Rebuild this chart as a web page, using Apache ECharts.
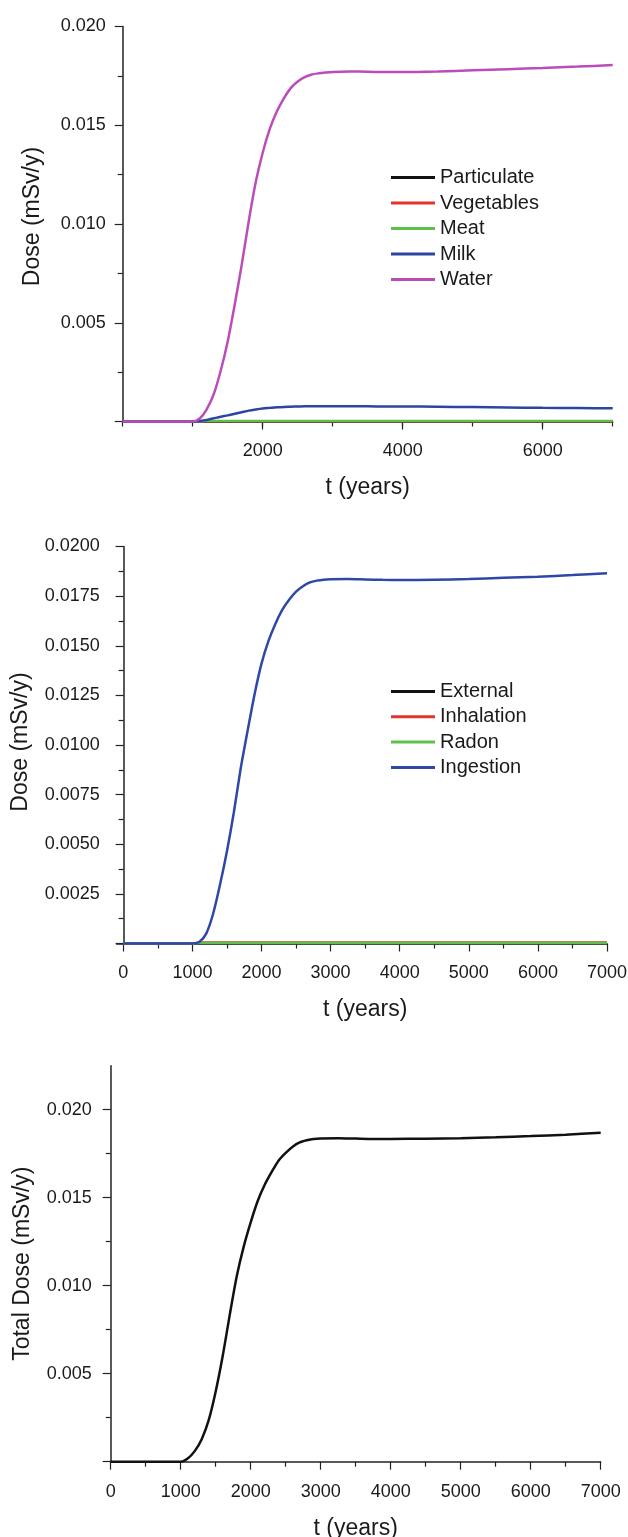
<!DOCTYPE html>
<html><head><meta charset="utf-8">
<script src="https://cdn.jsdelivr.net/npm/echarts@6/dist/echarts.min.js"></script>
<style>html,body{margin:0;padding:0;background:#fff}#c{width:628px;height:1537px}</style>
</head><body><div id="c"></div><script>
// time (years)
const t = [0, 500, 1000, 1100, 1200, 1300, 1400, 1500, 1600, 1700, 1800, 1900, 2000, 2100, 2200, 2300, 2400, 2500, 2600, 2700, 2800, 2900, 3000, 3250, 3500, 3750, 4000, 4500, 5000, 5500, 6000, 6500, 7000];

// Chart 1: dose by pathway (mSv/y)
const particulate = [0,0,0,0.000005,0.000005,0.000005,0.000005,0.000005,0.000005,0.000005,0.000005,0.000005,0.000005,0.000005,0.000005,0.000005,0.000005,0.000005,0.000005,0.000005,0.000005,0.000005,0.000005,0.000005,0.000005,0.000005,0.000005,0.000005,0.000005,0.000005,0.000005,0.000005,0.000005];
const vegetables = [0,0,0,0.00001,0.00001,0.00001,0.00001,0.00001,0.00001,0.00001,0.00001,0.00001,0.00001,0.00001,0.00001,0.00001,0.00001,0.00001,0.00001,0.00001,0.00001,0.00001,0.00001,0.00001,0.00001,0.00001,0.00001,0.00001,0.00001,0.00001,0.00001,0.00001,0.00001];
const meat = [0,0,0,0.00001,0.00002,0.00002,0.00002,0.00002,0.00002,0.00002,0.00002,0.00002,0.00002,0.00002,0.00002,0.00002,0.00002,0.00002,0.00002,0.00002,0.00002,0.00002,0.00002,0.00002,0.00002,0.00002,0.00002,0.00002,0.00002,0.00002,0.00002,0.00002,0.00002];
const milk = [0,0,0,0.00003,0.00008,0.00016,0.00024,0.00031,0.00039,0.00047,0.00055,0.00061,0.00066,0.00069,0.00072,0.00074,0.00075,0.00076,0.00077,0.00077,0.00077,0.00077,0.00077,0.00077,0.00077,0.00076,0.00076,0.00075,0.00073,0.00071,0.00069,0.00068,0.00067];
const water = [0,0,0,0.00015,0.00062,0.00138,0.00257,0.00405,0.00591,0.00793,0.01013,0.01211,0.01361,0.01480,0.01568,0.01635,0.01688,0.01722,0.01744,0.01757,0.01763,0.01767,0.01770,0.01772,0.01771,0.01769,0.01769,0.01772,0.01778,0.01784,0.01790,0.01797,0.01805];

// Chart 2: dose by exposure route (mSv/y)
const external = [0,0,0,0.00001,0.00001,0.00001,0.00001,0.00001,0.00001,0.00001,0.00001,0.00001,0.00001,0.00001,0.00001,0.00001,0.00001,0.00001,0.00001,0.00001,0.00001,0.00001,0.00001,0.00001,0.00001,0.00001,0.00001,0.00001,0.00001,0.00001,0.00001,0.00001,0.00001];
const inhalation = [0,0,0,0.00005,0.00005,0.00005,0.00005,0.00005,0.00005,0.00005,0.00005,0.00005,0.00005,0.00005,0.00005,0.00005,0.00005,0.00005,0.00005,0.00005,0.00005,0.00005,0.00005,0.00005,0.00005,0.00005,0.00005,0.00005,0.00005,0.00005,0.00005,0.00005,0.00005];
const radon = [0,0,0,0.00002,0.00002,0.00002,0.00002,0.00002,0.00002,0.00002,0.00002,0.00002,0.00002,0.00002,0.00002,0.00002,0.00002,0.00002,0.00002,0.00002,0.00002,0.00002,0.00002,0.00002,0.00002,0.00002,0.00002,0.00002,0.00002,0.00002,0.00002,0.00002,0.00002];
const ingestion = [0,0,0,0.00008,0.00050,0.00150,0.00297,0.00465,0.00661,0.00884,0.01074,0.01256,0.01410,0.01523,0.01610,0.01681,0.01732,0.01773,0.01800,0.01819,0.01828,0.01833,0.01835,0.01836,0.01834,0.01832,0.01831,0.01833,0.01836,0.01842,0.01848,0.01856,0.01865];

// Chart 3: total dose (mSv/y)
const total = [0,0,0,0.00018,0.00060,0.00128,0.00236,0.00399,0.00600,0.00833,0.01052,0.01222,0.01360,0.01481,0.01574,0.01647,0.01712,0.01755,0.01790,0.01814,0.01826,0.01834,0.01837,0.01838,0.01836,0.01834,0.01834,0.01835,0.01838,0.01843,0.01850,0.01858,0.01869];

const legend1 = ['Particulate', 'Vegetables', 'Meat', 'Milk', 'Water'];
const legend2 = ['External', 'Inhalation', 'Radon', 'Ingestion'];

const FONT = 'Liberation Sans';
const TXT = '#1a1a1a';
const pairs = (xs, ys) => xs.map((x, i) => [x, ys[i]]);
const plain = v => String(v);
const LBL = { color: TXT, fontFamily: FONT, fontSize: 18 };

function axisBase(extra) {
  return Object.assign({
    type: 'value',
    splitLine: { show: false },
    axisLine: { show: true, lineStyle: { color: '#222', width: 1.5 } },
    axisTick: { show: true, length: 8, lineStyle: { color: '#222', width: 1.2 } },
    minorTick: { show: true, splitNumber: 2, length: 5, lineStyle: { color: '#222', width: 1.2 } },
    axisLabel: Object.assign({ margin: 21, formatter: plain }, LBL),
    nameTextStyle: { color: TXT, fontFamily: FONT, fontSize: 23 },
    nameLocation: 'middle'
  }, extra);
}

function line(name, data, color, xi, yi) {
  return {
    type: 'line', name: name, data: pairs(t, data), xAxisIndex: xi, yAxisIndex: yi,
    showSymbol: false, clip: false, smooth: 0.25,
    lineStyle: { color: color, width: 2.5 }, itemStyle: { color: color }
  };
}

const G = { outerBoundsMode: 'none', containLabel: false };
const chart = echarts.init(document.getElementById('c'), null, { renderer: 'canvas' });
chart.setOption({
  animation: false,
  backgroundColor: '#fff',
  grid: [
    Object.assign({ left: 122.7, top: 26.5, width: 490, height: 395 }, G),     // 0 chart 1 data
    Object.assign({ left: 116.7, top: 546.5, width: 490.3, height: 397 }, G),  // 1 chart 2 frame
    Object.assign({ left: 123.3, top: 546.5, width: 483.7, height: 397 }, G),  // 2 chart 2 data
    Object.assign({ left: 110.7, top: 1109.7, width: 490, height: 352 }, G),   // 3 chart 3 data
    Object.assign({ left: 110.7, top: 1065.7, width: 490, height: 396 }, G),   // 4 chart 3 frame
    Object.assign({ left: 122.7, top: 26.5, width: 560, height: 395 }, G)      // 5 chart 1 major x ticks
  ],
  xAxis: [
    axisBase({ gridIndex: 0, min: 0, max: 7000, interval: 1000, name: 't (years)', nameGap: 55,
      axisTick: { show: true, length: 5, lineStyle: { color: '#222', width: 1.2 } },
      minorTick: { show: false }, axisLabel: { show: false } }),
    axisBase({ gridIndex: 1, min: -100, max: 7000, axisTick: { show: false }, minorTick: { show: false }, axisLabel: { show: false } }),
    axisBase({ gridIndex: 2, min: 0, max: 7000, interval: 1000, name: 't (years)', nameGap: 55,
      axisLine: { show: false } }),
    axisBase({ gridIndex: 3, min: 0, max: 7000, interval: 1000, name: 't (years)', nameGap: 55 }),
    { type: 'value', gridIndex: 4, min: 0, max: 7000, show: false },
    axisBase({ gridIndex: 5, min: 0, max: 8000, interval: 2000, axisLine: { show: false }, minorTick: { show: false },
      axisLabel: Object.assign({ margin: 21, showMinLabel: false, showMaxLabel: false, formatter: plain }, LBL) })
  ],
  yAxis: [
    axisBase({ gridIndex: 0, min: 0, max: 0.02, interval: 0.005, name: 'Dose (mSv/y)', nameGap: 79, nameRotate: 90,
      nameTextStyle: { color: TXT, fontFamily: FONT, fontSize: 23, padding: [0, 0, 0, 15] },
      axisLabel: Object.assign({ margin: 17, showMinLabel: false, formatter: v => v.toFixed(3) }, LBL) }),
    axisBase({ gridIndex: 1, min: 0, max: 0.02, interval: 0.0025, name: 'Dose (mSv/y)', nameGap: 85, nameRotate: 90,
      nameTextStyle: { color: TXT, fontFamily: FONT, fontSize: 23, padding: [0, 0, 0, 6] },
      axisLabel: Object.assign({ margin: 17, showMinLabel: false, formatter: v => v.toFixed(4) }, LBL) }),
    { type: 'value', gridIndex: 2, min: 0, max: 0.02, show: false },
    axisBase({ gridIndex: 3, min: 0, max: 0.02, interval: 0.005, axisLine: { show: false },
      axisLabel: Object.assign({ margin: 19, showMinLabel: false, formatter: v => v.toFixed(3) }, LBL) }),
    axisBase({ gridIndex: 4, min: 0, max: 0.0225, name: 'Total Dose (mSv/y)', nameGap: 77, nameRotate: 90,
      axisTick: { show: false }, minorTick: { show: false }, axisLabel: { show: false } }),
    { type: 'value', gridIndex: 5, min: 0, max: 0.02, show: false }
  ],
  legend: [
    { data: legend1, orient: 'vertical', left: 391, top: 167.5, padding: 0, icon: 'rect', itemWidth: 44, itemHeight: 3,
      itemGap: 5.5, selectedMode: false,
      textStyle: { color: TXT, fontFamily: FONT, fontSize: 20, lineHeight: 20 } },
    { data: legend2, orient: 'vertical', left: 391, top: 681.5, padding: 0, icon: 'rect', itemWidth: 44, itemHeight: 3,
      itemGap: 5.3, selectedMode: false,
      textStyle: { color: TXT, fontFamily: FONT, fontSize: 20, lineHeight: 20 } }
  ],
  series: [
    line('Particulate', particulate, '#111111', 0, 0),
    line('Vegetables', vegetables, '#e2352b', 0, 0),
    line('Meat', meat, '#5ec04c', 0, 0),
    line('Milk', milk, '#2c45a3', 0, 0),
    line('Water', water, '#bb4dbb', 0, 0),
    line('External', external, '#111111', 2, 2),
    line('Inhalation', inhalation, '#e2352b', 2, 2),
    line('Radon', radon, '#5ec04c', 2, 2),
    line('Ingestion', ingestion, '#2f47a7', 2, 2),
    line('Total', total, '#111111', 3, 3)
  ]
});
</script></body></html>
